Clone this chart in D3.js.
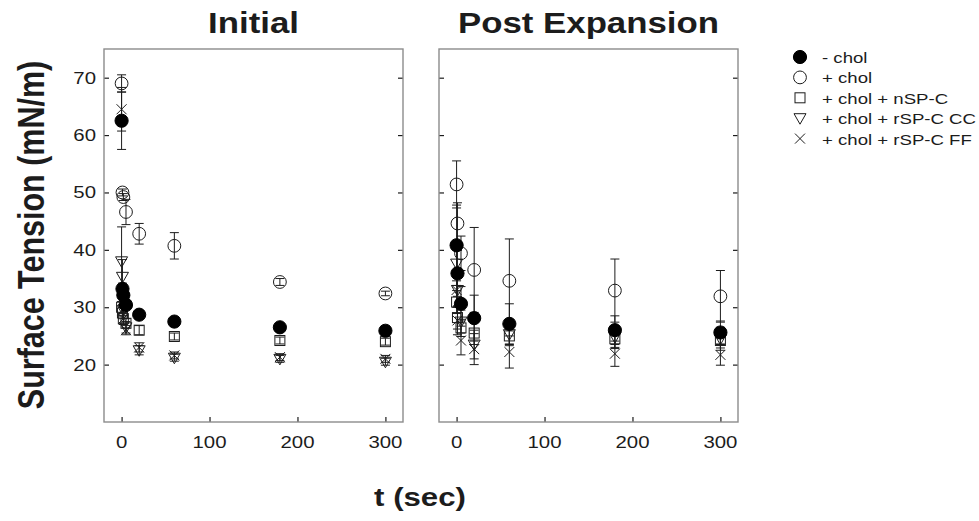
<!DOCTYPE html>
<html>
<head>
<meta charset="utf-8">
<script src="https://cdn.jsdelivr.net/npm/d3@7/dist/d3.min.js"></script>
<style>
  html, body { margin: 0; padding: 0; background: #fff; }
  svg { display: block; font-family: "Liberation Sans", Arial, sans-serif; }
</style>
</head>
<body>
<svg id="chart" width="979" height="521"></svg>
<script>
// Sampling times (s)
const timesInitial = [0, 1, 2, 5, 20, 60, 180, 300];
const timesPost = [0, 1, 5, 20, 60, 180, 300];

const seriesNames = ["- chol", "+ chol", "+ chol + nSP-C", "+ chol + rSP-C CC", "+ chol + rSP-C FF"];
const seriesShapes = ["filledCircle", "openCircle", "square", "triangleDown", "cross"];

// Initial compression: mean surface tension (mN/m) and SD
const initMinusChol    = [62.5, 33.2, 32.1, 30.4, 28.7, 27.5, 26.5, 25.9];
const initMinusCholErr = [5.0, 1.0, 1.0, 0.8, 0.6, 0.5, 0.6, 0.8];
const initPlusChol     = [69.0, 50.0, 49.2, 46.6, 42.8, 40.7, 34.4, 32.4];
const initPlusCholErr  = [1.5, 0.6, 0.6, 2.2, 1.8, 2.3, 0.6, 0.4];
const initNSPC         = [30.0, 29.0, 28.0, 27.2, 26.0, 24.9, 24.2, 24.0];
const initNSPCErr      = [1.0, 1.0, 1.0, 0.8, 0.8, 0.6, 0.6, 0.6];
const initCC           = [38.0, 35.3, 29.5, 26.5, 22.5, 21.2, 21.0, 20.5];
const initCCErr        = [6.0, 3.0, 1.0, 1.0, 0.8, 0.6, 0.6, 0.6];
const initFF           = [64.5, 29.5, 28.0, 26.0, 23.0, 21.6, 21.3, 21.0];
const initFFErr        = [3.8, 1.0, 1.0, 0.8, 0.8, 0.6, 0.6, 0.6];

// Post expansion
const postMinusChol    = [40.8, 35.9, 30.6, 28.1, 27.1, 26.0, 25.6];
const postMinusCholErr = [7.0, 4.0, 3.0, 4.0, 3.5, 2.5, 2.0];
const postPlusChol     = [51.4, 44.6, 39.4, 36.5, 34.6, 32.9, 31.9];
const postPlusCholErr  = [4.1, 3.6, 3.0, 7.4, 7.3, 5.5, 4.5];
const postNSPC         = [30.9, 28.2, 26.4, 25.5, 25.0, 24.5, 24.2];
const postNSPCErr      = [2.0, 2.0, 1.5, 2.0, 1.5, 1.5, 1.3];
const postCC           = [37.6, 33.0, 27.5, 23.5, 25.3, 24.8, 24.5];
const postCCErr        = [3.0, 3.0, 2.0, 2.5, 2.0, 2.0, 2.0];
const postFF           = [33.0, 27.7, 24.2, 22.7, 22.2, 21.9, 21.7];
const postFFErr        = [3.0, 2.5, 2.5, 2.7, 2.8, 2.2, 1.8];

const xTicks = [0, 100, 200, 300];
const yTicks = [20, 30, 40, 50, 60, 70];

const panelTitles = ["Initial", "Post Expansion"];
const xLabel = "t (sec)";
const yLabel = "Surface Tension (mN/m)";

// ---- layout ----
const svg = d3.select("#chart");
const SX = 1.2;             // horizontal text stretch
const ink = "#1c1c1c";
const frameColor = "#8c8c8c";

const y = d3.scaleLinear().domain([10, 75]).range([422, 49]);

const panels = [
  {
    title: panelTitles[0], times: timesInitial, range: [104, 403], labels: true,
    values: [initMinusChol, initPlusChol, initNSPC, initCC, initFF],
    errors: [initMinusCholErr, initPlusCholErr, initNSPCErr, initCCErr, initFFErr]
  },
  {
    title: panelTitles[1], times: timesPost, range: [439, 738], labels: false,
    values: [postMinusChol, postPlusChol, postNSPC, postCC, postFF],
    errors: [postMinusCholErr, postPlusCholErr, postNSPCErr, postCCErr, postFFErr]
  }
];

// marker drawing
function drawMarker(g, shape, cx, cy) {
  const s = { stroke: ink, "stroke-width": 1 };
  if (shape === "filledCircle") {
    g.append("circle").attr("cx", cx).attr("cy", cy).attr("r", 6.6)
      .attr("fill", "#000").attr("stroke", "#000");
  } else if (shape === "openCircle") {
    g.append("circle").attr("cx", cx).attr("cy", cy).attr("r", 6.4)
      .attr("fill", "none").attr("stroke", ink).attr("stroke-width", 1);
  } else if (shape === "square") {
    g.append("rect").attr("x", cx - 5).attr("y", cy - 5).attr("width", 10).attr("height", 10)
      .attr("fill", "none").attr("stroke", ink).attr("stroke-width", 1);
  } else if (shape === "triangleDown") {
    const p = d3.path();
    p.moveTo(cx - 6, cy - 4.5); p.lineTo(cx + 6, cy - 4.5); p.lineTo(cx, cy + 6); p.closePath();
    g.append("path").attr("d", p.toString())
      .attr("fill", "none").attr("stroke", ink).attr("stroke-width", 1);
  } else if (shape === "cross") {
    const p = d3.path();
    p.moveTo(cx - 5, cy - 5); p.lineTo(cx + 5, cy + 5);
    p.moveTo(cx + 5, cy - 5); p.lineTo(cx - 5, cy + 5);
    g.append("path").attr("d", p.toString())
      .attr("fill", "none").attr("stroke", ink).attr("stroke-width", 1);
  }
}

function stretchedText(parent, x, yy, str, size, weight, anchor) {
  return parent.append("text")
    .attr("transform", `translate(${x},${yy}) scale(${SX},1)`)
    .attr("text-anchor", anchor || "middle")
    .attr("font-size", size)
    .attr("font-weight", weight || "normal")
    .attr("fill", ink)
    .text(str);
}

panels.forEach(panel => {
  const x = d3.scaleLinear().domain([-20, 320]).range(panel.range);
  const g = svg.append("g");
  const [x0, x1] = panel.range;
  const [yb, yt] = y.range();

  // inward ticks
  const bottomAxis = d3.axisBottom(x).tickValues(xTicks).tickSize(-5).tickFormat("");
  const leftAxis = d3.axisLeft(y).tickValues(yTicks).tickSize(-5).tickFormat("");
  const rightAxis = d3.axisRight(y).tickValues(yTicks).tickSize(-5).tickFormat("");
  [
    g.append("g").attr("transform", `translate(0,${yb})`).call(bottomAxis),
    g.append("g").attr("transform", `translate(${x0},0)`).call(leftAxis),
    g.append("g").attr("transform", `translate(${x1},0)`).call(rightAxis)
  ].forEach(a => {
    a.select(".domain").remove();
    a.selectAll(".tick line").attr("stroke", ink).attr("stroke-width", 1.2);
  });

  // frame
  g.append("rect").attr("x", x0).attr("y", yt).attr("width", x1 - x0).attr("height", yb - yt)
    .attr("fill", "none").attr("stroke", frameColor).attr("stroke-width", 1.4);

  // tick labels
  xTicks.forEach(t => stretchedText(g, x(t), 448, String(t), 17));
  if (panel.labels) {
    yTicks.forEach(v => stretchedText(g, 96, y(v) + 6, String(v), 17, "normal", "end"));
  }

  // title
  stretchedText(g, (x0 + x1) / 2, 33, panel.title, 29, "bold");

  // data: error bars then markers, filled circles drawn last
  const order = [1, 2, 3, 4, 0];
  const eg = g.append("g");
  order.forEach(si => {
    panel.times.forEach((t, i) => {
      const v = panel.values[si][i], e = panel.errors[si][i];
      const cx = x(t);
      const ya = y(v + e), yb2 = y(v - e);
      eg.append("line").attr("x1", cx).attr("x2", cx).attr("y1", ya).attr("y2", yb2)
        .attr("stroke", ink).attr("stroke-width", 1);
      [ya, yb2].forEach(yy => eg.append("line")
        .attr("x1", cx - 4.5).attr("x2", cx + 4.5).attr("y1", yy).attr("y2", yy)
        .attr("stroke", ink).attr("stroke-width", 1));
    });
  });
  const mg = g.append("g");
  order.forEach(si => {
    panel.times.forEach((t, i) => {
      drawMarker(mg, seriesShapes[si], x(t), y(panel.values[si][i]));
    });
  });
});

// axis titles
stretchedText(svg, 420, 506, xLabel, 26, "bold");
svg.append("text")
  .attr("transform", `translate(44,235) scale(${SX},1) rotate(-90)`)
  .attr("text-anchor", "middle")
  .attr("font-size", 30.5)
  .attr("font-weight", "bold")
  .attr("fill", ink)
  .text(yLabel);

// legend
const lg = svg.append("g");
seriesNames.forEach((name, i) => {
  const cy = 57 + i * 20.4;
  drawMarker(lg, seriesShapes[i], 800, cy);
  stretchedText(lg, 822, cy + 6, name, 15.5, "normal", "start");
});
</script>
</body>
</html>
